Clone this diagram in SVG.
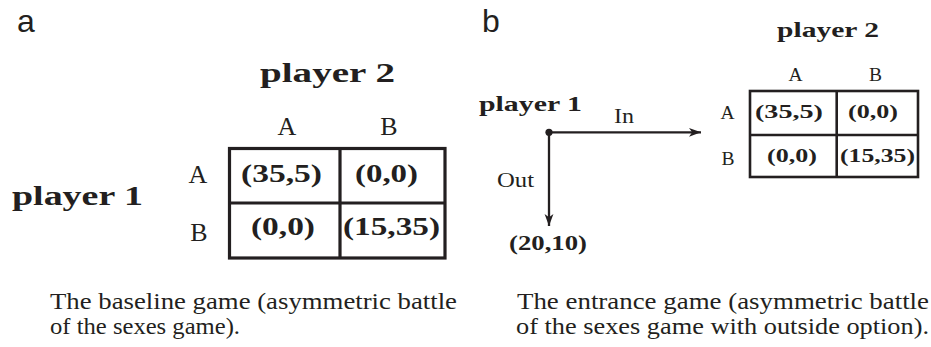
<svg xmlns="http://www.w3.org/2000/svg" width="931" height="347" viewBox="0 0 931 347">
  <style>
    text { fill: #231f20; }
    .tag { font-family: 'Liberation Sans', Arial, sans-serif; font-size: 32px; }
    .rm { font-family: 'Liberation Serif', 'Times New Roman', serif; font-weight: normal; }
    .bf { font-family: 'Liberation Serif', 'Times New Roman', serif; font-weight: bold; }
    .grid { fill: none; stroke: #231f20; }
    .edge { fill: none; stroke: #231f20; stroke-width: 2.3; }
  </style>
  <defs>
    <marker id="arrow" markerUnits="userSpaceOnUse" markerWidth="13" markerHeight="10" refX="12" refY="5" orient="auto">
      <path d="M0,0.6 L12,5 L0,9.4 L3.2,5 Z" fill="#231f20"/>
    </marker>
  </defs>

  <!-- panel letters -->
  <text class="tag" x="17" y="32">a</text>
  <text class="tag" x="482" y="32">b</text>

  <!-- (a) baseline game: normal-form matrix -->
  <g id="a-player2">
    <text class="bf" x="260" y="82" font-size="27" textLength="135" lengthAdjust="spacingAndGlyphs">player 2</text>
  </g>
  <g id="a-player1">
    <text class="bf" x="12" y="205" font-size="27" textLength="131" lengthAdjust="spacingAndGlyphs">player 1</text>
  </g>
  <g id="a-matrix">
    <rect class="grid" stroke-width="3.2" x="229.5" y="148.5" width="215.5" height="109.5"/>
    <line class="grid" stroke-width="3.2" x1="340" y1="148.5" x2="340" y2="258"/>
    <line class="grid" stroke-width="3.2" x1="229.5" y1="203" x2="445" y2="203"/>
    <g class="rm" font-size="26" text-anchor="middle">
      <text x="287" y="135">A</text>
      <text x="389" y="135">B</text>
      <text x="198" y="183">A</text>
      <text x="199" y="241">B</text>
    </g>
    <g class="bf" font-size="25">
      <text x="241" y="182" textLength="81" lengthAdjust="spacingAndGlyphs">(35,5)</text>
      <text x="355" y="182" textLength="63" lengthAdjust="spacingAndGlyphs">(0,0)</text>
      <text x="251" y="235" textLength="64" lengthAdjust="spacingAndGlyphs">(0,0)</text>
      <text x="343" y="235" textLength="97" lengthAdjust="spacingAndGlyphs">(15,35)</text>
    </g>
  </g>

  <!-- (b) entrance game: outside option followed by the matrix -->
  <g id="b-player2">
    <text class="bf" x="777" y="37" font-size="21" textLength="102" lengthAdjust="spacingAndGlyphs">player 2</text>
  </g>
  <g id="b-player1">
    <text class="bf" x="479" y="111" font-size="21" textLength="103" lengthAdjust="spacingAndGlyphs">player 1</text>
    <circle cx="549" cy="132.3" r="3.6" fill="#231f20"/>
  </g>
  <g id="b-outside">
    <text class="bf" x="509" y="250" font-size="20" textLength="78" lengthAdjust="spacingAndGlyphs">(20,10)</text>
  </g>
  <g id="b-matrix">
    <rect class="grid" stroke-width="2.6" x="750" y="91" width="168" height="86"/>
    <line class="grid" stroke-width="2.6" x1="836.7" y1="91" x2="836.7" y2="177"/>
    <line class="grid" stroke-width="2.6" x1="750" y1="135" x2="918" y2="135"/>
    <g class="rm" font-size="19.5" text-anchor="middle">
      <text x="795.5" y="81">A</text>
      <text x="875.5" y="81">B</text>
      <text x="727.5" y="119">A</text>
      <text x="728" y="165">B</text>
    </g>
    <g class="bf" font-size="19.5">
      <text x="755" y="118" textLength="68" lengthAdjust="spacingAndGlyphs">(35,5)</text>
      <text x="848" y="118" textLength="50" lengthAdjust="spacingAndGlyphs">(0,0)</text>
      <text x="767" y="162" textLength="50" lengthAdjust="spacingAndGlyphs">(0,0)</text>
      <text x="840" y="162" textLength="75" lengthAdjust="spacingAndGlyphs">(15,35)</text>
    </g>
  </g>

  <!-- moves of player 1 -->
  <g id="connectors">
    <line class="edge" x1="549" y1="132.3" x2="701" y2="132.3" marker-end="url(#arrow)"/>
    <line class="edge" x1="549" y1="132.3" x2="549" y2="226" marker-end="url(#arrow)"/>
    <text class="rm" x="614" y="123" font-size="20" textLength="20" lengthAdjust="spacingAndGlyphs">In</text>
    <text class="rm" x="497" y="187" font-size="20" textLength="37" lengthAdjust="spacingAndGlyphs">Out</text>
  </g>

  <!-- captions -->
  <g class="rm" font-size="23.5">
    <text x="50" y="309" textLength="407" lengthAdjust="spacingAndGlyphs">The baseline game (asymmetric battle</text>
    <text x="50" y="334" textLength="190" lengthAdjust="spacingAndGlyphs">of the sexes game).</text>
    <text x="517" y="309" textLength="412" lengthAdjust="spacingAndGlyphs">The entrance game (asymmetric battle</text>
    <text x="516" y="334" textLength="413" lengthAdjust="spacingAndGlyphs">of the sexes game with outside option).</text>
  </g>
</svg>
